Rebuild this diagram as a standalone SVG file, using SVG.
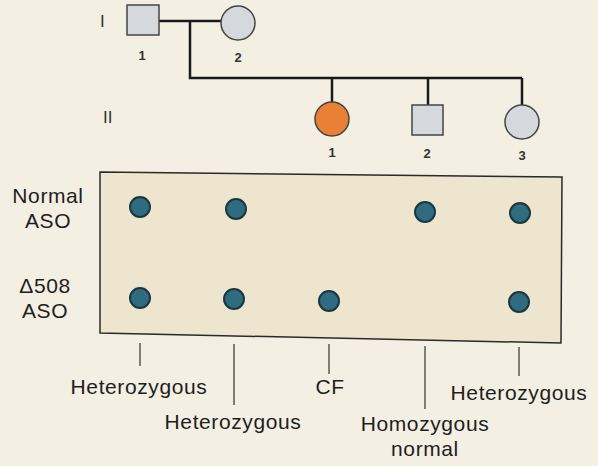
<svg xmlns="http://www.w3.org/2000/svg" width="598" height="466" viewBox="0 0 598 466">
<style>
text{font-family:"Liberation Sans",Arial,sans-serif;fill:#1e1e1e}
.lbl{font-size:21px;text-anchor:middle;letter-spacing:0.6px}
.num{font-size:13px;font-weight:bold;text-anchor:middle;fill:#333}
.gen{font-size:17px;fill:#333}
.ln{stroke:#1a1a1a;stroke-width:2.5;fill:none}
.tick{stroke:#333;stroke-width:1.2;fill:none}
.gray{fill:#d5d8dd;stroke:#444;stroke-width:1.5}
.dot{fill:#2f6c80;stroke:#1c3640;stroke-width:2}
</style>
<rect width="598" height="466" fill="#f3efe3"/>
<g id="connectors">
<path class="ln" d="M159,21 H221 M190,21 V78 H522 M332,78 V102 M428,78 V105 M522,78 V105"/>
<path class="tick" d="M140,343 V366 M234,344 V405 M329,344 V374 M425,346 V409 M519,347 V376"/>
</g>
<text class="gen" x="100" y="27">I</text>
<text class="gen" x="103" y="123">II</text>
<g id="I-1"><rect class="gray" x="127" y="5" width="32" height="30"/><text class="num" x="142" y="60">1</text></g>
<g id="I-2"><circle class="gray" cx="238" cy="23" r="17"/><text class="num" x="238" y="62">2</text></g>
<g id="II-1"><circle cx="332" cy="119" r="17" fill="#ea7f36" stroke="#444" stroke-width="1.5"/><text class="num" x="332" y="157">1</text></g>
<g id="II-2"><rect class="gray" x="412" y="105" width="31" height="30"/><text class="num" x="427" y="158">2</text></g>
<g id="II-3"><circle class="gray" cx="522" cy="122" r="17"/><text class="num" x="522" y="160">3</text></g>
<g id="blot">
<path d="M100,172 L562,177 L561,343 L100,333 Z" fill="#ede5cd" stroke="#2a2a2a" stroke-width="1.5"/>
<circle class="dot" cx="140" cy="207" r="10"/>
<circle class="dot" cx="236" cy="209" r="10"/>
<circle class="dot" cx="425" cy="212" r="10"/>
<circle class="dot" cx="520" cy="213" r="10"/>
<circle class="dot" cx="140" cy="298" r="10"/>
<circle class="dot" cx="234" cy="299" r="10"/>
<circle class="dot" cx="329" cy="301" r="10"/>
<circle class="dot" cx="519" cy="302" r="10"/>
</g>
<text class="lbl" x="48" y="203">Normal</text>
<text class="lbl" x="48" y="228">ASO</text>
<text class="lbl" x="45" y="293">Δ508</text>
<text class="lbl" x="45" y="318">ASO</text>
<text class="lbl" x="139" y="394">Heterozygous</text>
<text class="lbl" x="233" y="429">Heterozygous</text>
<text class="lbl" x="330" y="394">CF</text>
<text class="lbl" x="425" y="431">Homozygous</text>
<text class="lbl" x="425" y="456">normal</text>
<text class="lbl" x="519" y="400">Heterozygous</text>
</svg>
